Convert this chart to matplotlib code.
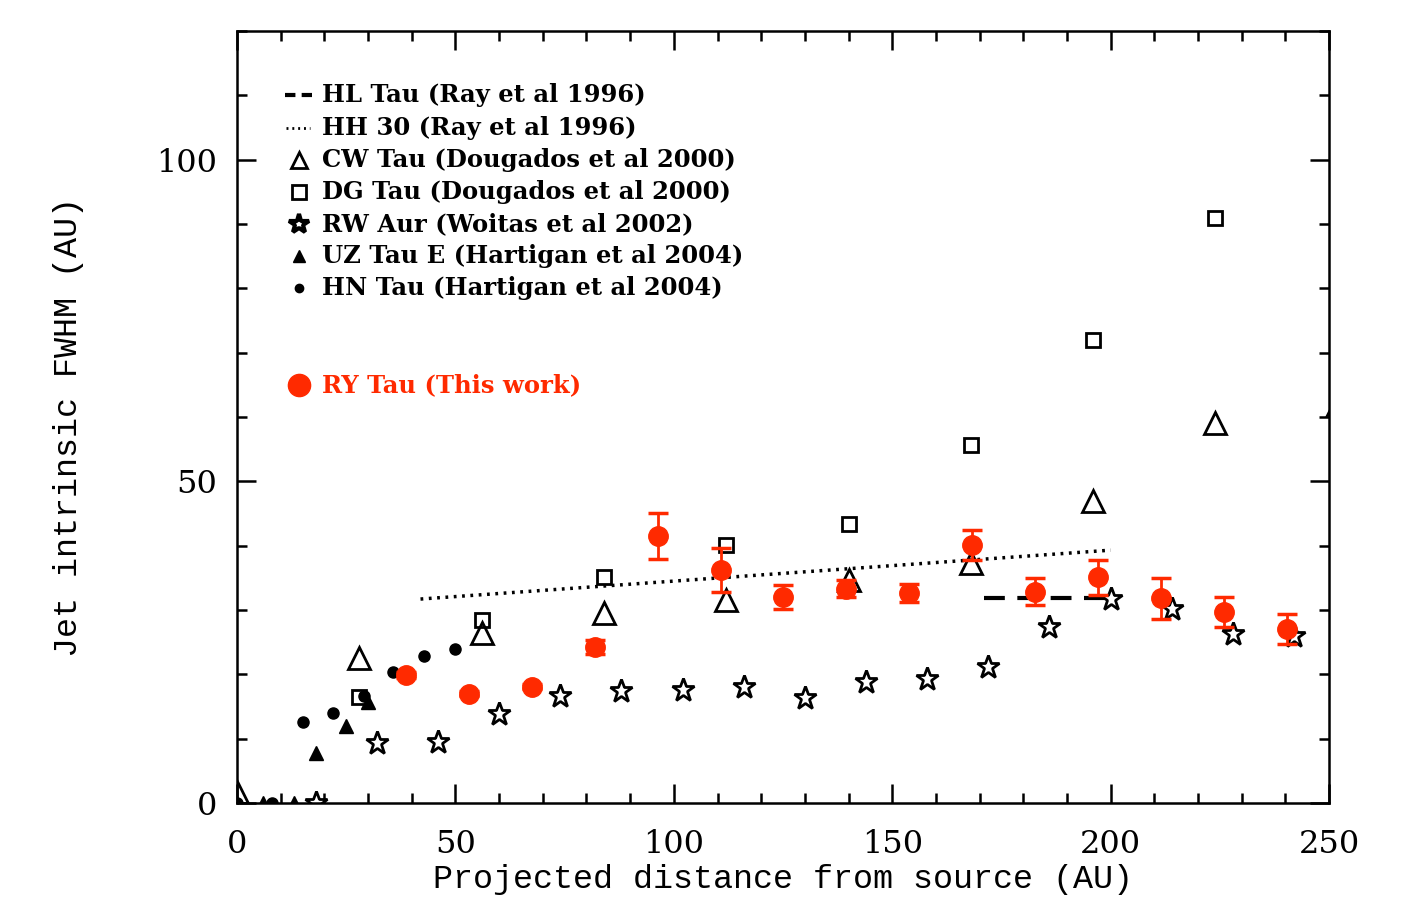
import matplotlib
matplotlib.use("Agg")
import matplotlib.pyplot as plt
from matplotlib.ticker import MultipleLocator

# HL Tau and HH 30 (Ray et al 1996)
hl_x = [171, 200]
hl_y = [31.8, 31.8]
hh30_x = [42, 200]
hh30_y = [31.7, 39.3]

# CW Tau, DG Tau (Dougados et al 2000)
cw_x = [0, 28, 56, 84, 112, 140, 168, 196, 224, 252]
cw_y = [1.7, 22.5, 26.4, 29.5, 31.5, 34.6, 37.3, 47.0, 59.0, 62]
dg_x = [28, 56, 84, 112, 140, 168, 196, 224]
dg_y = [16.5, 28.4, 35.2, 40.1, 43.3, 55.6, 71.9, 90.9]

# RW Aur (Woitas et al 2002)
rw_x = [18, 32, 46, 60, 74, 88, 102, 116, 130, 144, 158, 172, 186, 200, 214, 228, 242]
rw_y = [0, 9.3, 9.4, 13.9, 16.6, 17.4, 17.5, 18.1, 16.3, 18.8, 19.2, 21.2, 27.4, 31.7, 30.1, 26.2, 25.9]

# UZ Tau E, HN Tau (Hartigan et al 2004)
uz_x = [6, 13, 18, 25, 30]
uz_y = [0, 0, 7.8, 12.0, 15.7]
hn_x = [0, 8, 15, 22, 29, 35.7, 42.8, 50]
hn_y = [0, 0, 12.6, 14.0, 16.6, 20.3, 22.8, 23.9]

# RY Tau (this work)
ry_x = [38.7, 53.1, 67.5, 81.9, 96.3, 110.7, 125.1, 139.5, 153.9, 168.3, 182.7, 197.1, 211.5, 225.9, 240.3]
ry_y = [19.9, 17.0, 18.1, 24.3, 41.5, 36.2, 32.0, 33.3, 32.6, 40.1, 32.8, 35.1, 31.8, 29.7, 27.0]
ry_err = [0.4, 0.4, 0.4, 1.1, 3.5, 3.4, 1.9, 1.35, 1.4, 2.4, 2.1, 2.7, 3.2, 2.3, 2.3]

labels = ["HL Tau (Ray et al 1996)", "HH 30 (Ray et al 1996)",
          "CW Tau (Dougados et al 2000)", "DG Tau (Dougados et al 2000)",
          "RW Aur (Woitas et al 2002)", "UZ Tau E (Hartigan et al 2004)",
          "HN Tau (Hartigan et al 2004)"]
ry_label = "RY Tau (This work)"

RED = "#ff2a00"
plt.rcParams["font.family"] = ["DejaVu Serif"]

fig = plt.figure(figsize=(14.17, 9.07), dpi=100)
ax = fig.add_axes([0.1673, 0.1147, 0.7706, 0.8511])

ax.plot(hl_x, hl_y, color="k", lw=3, ls=(0, (5, 3)))
ax.plot(hh30_x, hh30_y, color="k", lw=2.5, ls=(0, (0.8, 1.6)))
ax.plot(cw_x, cw_y, ls="none", marker="^", ms=16, mfc="none", mec="k", mew=2)
ax.plot(dg_x, dg_y, ls="none", marker="s", ms=10, mfc="none", mec="k", mew=2)
ax.plot(rw_x, rw_y, ls="none", marker="*", ms=17, mfc="white", mec="k", mew=2)
ax.plot(uz_x, uz_y, ls="none", marker="^", ms=10, color="k")
ax.plot(hn_x, hn_y, ls="none", marker="o", ms=8, color="k")
ax.errorbar(ry_x, ry_y, yerr=ry_err, fmt="o", ms=14, color=RED, ecolor=RED,
            elinewidth=2, capsize=7.5, capthick=2.5, zorder=5)

# legend drawn in data coordinates
rows = [110, 105, 100, 95, 90, 85, 80]
mx, tx = 14.2, 19.5
ax.plot([11, 17.2], [rows[0]] * 2, color="k", lw=3, ls=(0, (2.5, 1.5)))
ax.plot([11.3, 16.8], [rows[1]] * 2, color="k", lw=2, ls=(0, (0.7, 1.4)))
ax.plot([mx], [rows[2]], marker="^", ms=11, mfc="none", mec="k", mew=2)
ax.plot([mx], [rows[3]], marker="s", ms=10, mfc="none", mec="k", mew=2)
ax.plot([mx], [rows[4]], marker="*", ms=15, mfc="white", mec="k", mew=3)
ax.plot([mx], [rows[5]], marker="^", ms=8, color="k")
ax.plot([mx], [rows[6]], marker="o", ms=6, color="k")
ax.plot([mx], [65], marker="o", ms=16, color=RED)
for yy, lab in zip(rows, labels):
    ax.text(tx, yy, lab, fontsize=17.5, fontweight="bold", va="center", ha="left")
ax.text(tx, 65, ry_label, fontsize=17.5, fontweight="bold", color=RED, va="center", ha="left")

ax.set_xlim(0, 250)
ax.set_ylim(0, 120)
ax.xaxis.set_major_locator(MultipleLocator(50))
ax.xaxis.set_minor_locator(MultipleLocator(10))
ax.yaxis.set_major_locator(MultipleLocator(50))
ax.yaxis.set_minor_locator(MultipleLocator(10))
ax.tick_params(which="both", direction="in", top=True, right=True, width=1.8, labelsize=23)
ax.tick_params(which="major", length=14)
ax.tick_params(which="minor", length=7)
ax.tick_params(axis="x", pad=19)
ax.tick_params(axis="y", pad=14)
for s in ax.spines.values():
    s.set_linewidth(1.8)

label_font = dict(fontsize=24, family=["Liberation Mono", "DejaVu Serif"])
ax.set_xlabel("Projected distance from source (AU)", **label_font)
ax.set_ylabel("Jet intrinsic FWHM (AU)", **label_font)
ax.xaxis.set_label_coords(0.5, -0.0997)
ax.xaxis.label.set_va("center")
ax.yaxis.set_label_coords(-0.1548, 0.487)
ax.yaxis.label.set_va("center")

fig.savefig("out.png", dpi=100)
